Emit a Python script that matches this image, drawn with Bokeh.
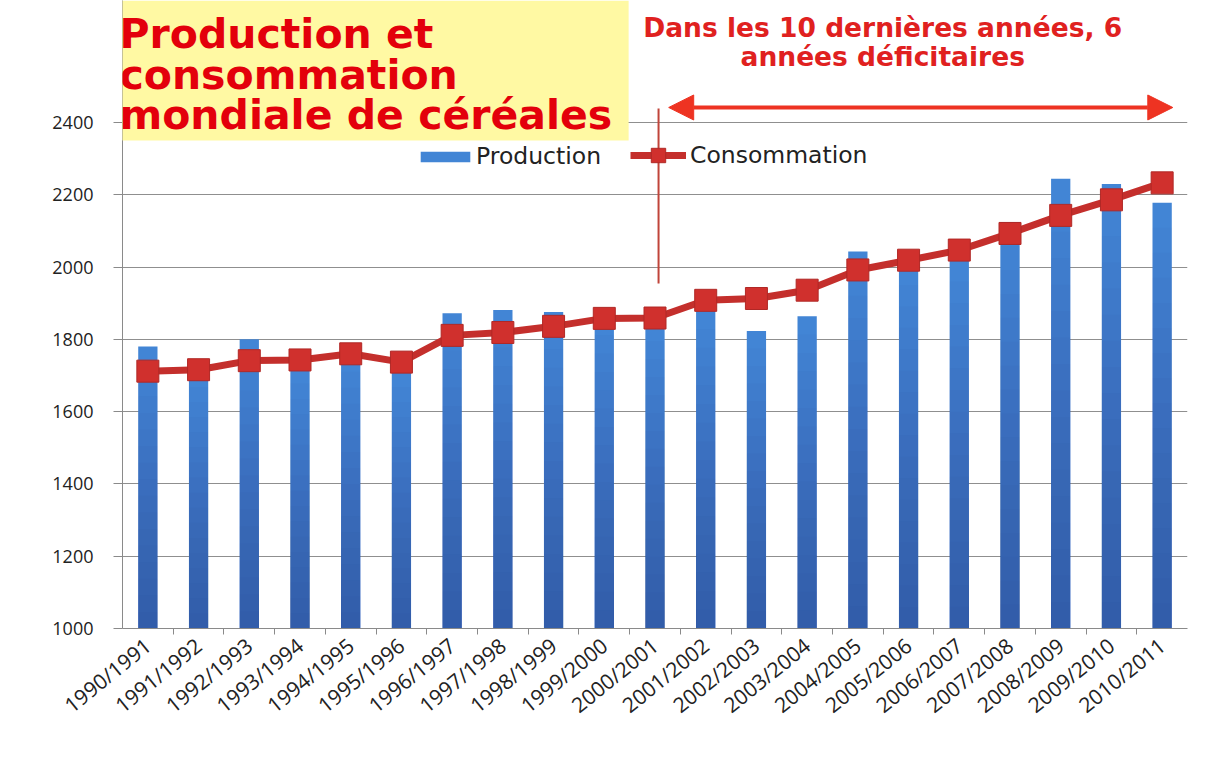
import math
from bokeh.plotting import figure
from bokeh.models import (FactorRange, Range1d, CategoricalAxis, FixedTicker,
                          BoxAnnotation, Label, Arrow, NormalHead, Legend, LegendItem,
                          ColumnDataSource)
from bokeh.embed import file_html
from bokeh.resources import INLINE

# ---------------- data ----------------
campagnes = ["1990/1991", "1991/1992", "1992/1993", "1993/1994", "1994/1995", "1995/1996",
             "1996/1997", "1997/1998", "1998/1999", "1999/2000", "2000/2001", "2001/2002",
             "2002/2003", "2003/2004", "2004/2005", "2005/2006", "2006/2007", "2007/2008",
             "2008/2009", "2009/2010", "2010/2011"]
production = [1780, 1710, 1800, 1720, 1755, 1710, 1872, 1881, 1876, 1862, 1845, 1880,
              1823, 1864, 2043, 2010, 2020, 2124, 2244, 2230, 2178]
consommation = [1712, 1716, 1741, 1743, 1760, 1737, 1811, 1819, 1836, 1858, 1859, 1908,
                1913, 1936, 1992, 2019, 2047, 2093, 2143, 2186, 2233]
y_ticks = [1000, 1200, 1400, 1600, 1800, 2000, 2200, 2400]
titre = ["Production et", "consommation", "mondiale de céréales"]
note = ["Dans les 10 dernières années, 6", "années déficitaires"]

# ---------------- layout constants ----------------
Y_BOTTOM = 1000
Y_TOP = 2737.5   # extra room above 2400 for the title block

src = ColumnDataSource(dict(campagne=campagnes, production=production, consommation=consommation))

p = figure(width=1200, height=740,
           x_range=FactorRange(factors=campagnes),
           y_range=Range1d(Y_BOTTOM, Y_TOP),
           x_axis_type=None,
           output_backend="svg", toolbar_location=None,
           min_border_left=122, min_border_right=13, min_border_top=0, min_border_bottom=112)
p.outline_line_color = None
p.background_fill_color = "white"
p.border_fill_color = "white"

# y axis
p.yaxis.ticker = FixedTicker(ticks=y_ticks)
p.yaxis.axis_line_color = "#8a8a8a"
p.yaxis.major_tick_line_color = "#8a8a8a"
p.yaxis.major_tick_in = 0
p.yaxis.major_tick_out = 9
p.yaxis.minor_tick_line_color = None
p.yaxis.major_label_standoff = 20
p.yaxis.major_label_text_font = "Open Sans"
p.yaxis.major_label_text_font_size = "18px"
p.yaxis.major_label_text_color = "#222222"
p.ygrid.grid_line_color = "#8f8f8f"
p.ygrid.grid_line_width = 1

# x axes: tick marks between categories (boundary factors), then category labels
bounds = ["b%d" % i for i in range(len(campagnes) + 1)]
p.extra_x_ranges = {"bounds": FactorRange(factors=bounds, range_padding=-0.5,
                                          range_padding_units="absolute")}
tick_axis = CategoricalAxis(x_range_name="bounds",
                            major_tick_in=0, major_tick_out=6,
                            axis_line_color="#8a8a8a", major_tick_line_color="#8a8a8a",
                            major_label_text_font_size="0px", major_label_standoff=0,
                            major_label_text_color=None)
p.add_layout(tick_axis, "below")
cat_axis = CategoricalAxis(major_label_orientation=0.68,
                           axis_line_color=None, major_tick_line_color=None,
                           major_label_standoff=2,
                           major_label_text_font="Open Sans",
                           major_label_text_font_size="21px",
                           major_label_text_color="#222222")
p.add_layout(cat_axis, "below")

# bars (with a light-to-dark vertical shading) and line
bars = p.vbar(x="campagne", top="production", bottom=Y_BOTTOM, width=0.38, source=src,
              fill_color="#4285D5", line_color=None)
N_SHADE = 16
for k in range(1, N_SHADE + 1):
    p.vbar(x=campagnes, top=[Y_BOTTOM + (v - Y_BOTTOM) * k / (N_SHADE + 1) for v in production],
           bottom=Y_BOTTOM, width=0.38, fill_color="#17345F", fill_alpha=0.027, line_color=None)

ln = p.line(x="campagne", y="consommation", source=src, line_width=7, line_color="#C42F2C")
mk = p.scatter(x="campagne", y="consommation", source=src, marker="square", size=22,
               fill_color="#D0302D", line_color="#B02826", line_width=1)

# title block
p.add_layout(BoxAnnotation(left=-0.28, right=9.98, bottom=2350.2, top=Y_TOP,
                           fill_color="#FFF9A3", fill_alpha=1.0, line_color=None))
for line_txt, yc in zip(titre, [2645.5, 2532.0, 2420.0]):
    p.add_layout(Label(x=-0.06, y=yc, text=line_txt, text_font="DejaVu Sans",
                       text_font_style="bold", text_font_size="41px",
                       text_color="#E3000B", text_baseline="middle", text_align="left"))

# annotation
for line_txt, yc in zip(note, [2663.0, 2582.9]):
    p.add_layout(Label(x=14.99, y=yc, text=line_txt, text_font="DejaVu Sans",
                       text_font_style="bold", text_font_size="26.5px",
                       text_color="#E0211F", text_baseline="middle", text_align="center"))

p.add_layout(Arrow(x_start=10.77, y_start=2441.5, x_end=20.71, y_end=2441.5,
                   line_color="#EE3322", line_width=4,
                   start=NormalHead(size=25, fill_color="#EE3322", line_color="#EE3322"),
                   end=NormalHead(size=25, fill_color="#EE3322", line_color="#EE3322")))
p.segment(x0=[10.57], y0=[2438.7], x1=[10.57], y1=[1954.5], line_color="#C0443A", line_width=2)

# legends
leg_prod = Legend(items=[LegendItem(label="Production", renderers=[bars])],
                  location=(292, 458), orientation="horizontal",
                  glyph_width=62, glyph_height=13, label_standoff=0,
                  padding=0, margin=0, border_line_color=None, background_fill_alpha=0,
                  label_text_font="DejaVu Sans", label_text_font_size="23.5px",
                  label_text_color="#222222")
leg_cons = Legend(items=[LegendItem(label="Consommation", renderers=[ln, mk])],
                  location=(508, 455), orientation="horizontal",
                  glyph_width=56, glyph_height=36, label_standoff=4,
                  padding=0, margin=0, border_line_color=None, background_fill_alpha=0,
                  label_text_font="DejaVu Sans", label_text_font_size="23.5px",
                  label_text_color="#222222")
p.add_layout(leg_prod)
p.add_layout(leg_cons)

open("out.html", "w").write(file_html(p, INLINE))
